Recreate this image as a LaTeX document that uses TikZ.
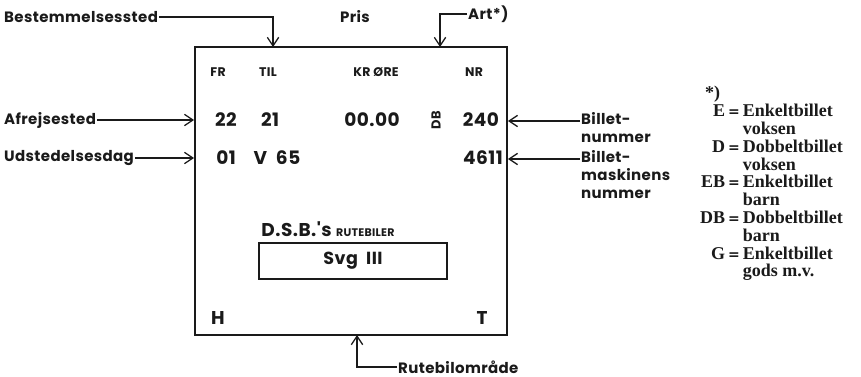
\documentclass[tikz,border=0pt]{standalone}
\usepackage{fontspec}
\setmainfont{Liberation Serif}
\newfontfamily\ticketfont{Poppins}[LetterSpace=2.5]
\newfontfamily\eqfont{DejaVu Sans}
\usepackage{array}
\usetikzlibrary{arrows.meta,positioning}
\definecolor{dsbink}{HTML}{1A1A1A}
\newcommand{\lik}{{\eqfont\bfseries\fontsize{14}{14}\selectfont =}}
\tikzset{
  ticketbox/.style={draw=dsbink,line width=1.8pt,minimum width=312pt,minimum height=288pt,inner sep=0pt},
  svgbox/.style={draw=dsbink,line width=1.4pt,minimum width=188pt,minimum height=36pt,
                 font=\ticketfont\bfseries\fontsize{17.5}{17.5}\selectfont,text=dsbink},
  callout/.style={font=\ticketfont\bfseries\fontsize{15}{18}\selectfont,text=dsbink,inner sep=1pt,align=left},
  fieldhead/.style={font=\ticketfont\bfseries\fontsize{12.5}{12.5}\selectfont,text=dsbink,inner sep=0pt},
  fieldval/.style={font=\ticketfont\bfseries\fontsize{18.5}{18.5}\selectfont,text=dsbink,inner sep=0pt},
  legendtext/.style={font=\bfseries\fontsize{18}{17.7}\selectfont,text=dsbink,inner sep=0pt},
  pointer/.style={-{Straight Barb[length=3mm,width=4mm]},line width=1.3pt,draw=dsbink}
}

\begin{document}
\begin{tikzpicture}[x=1pt,y=-1pt]
    \useasboundingbox (0,0) rectangle (861,377);

    % the ticket
    \node[ticketbox] (ticket) at (351,191) {};

    \node[fieldhead] (fr) at (218,72) {FR};
    \node[fieldhead] (til) at (268,72) {TIL};
    \node[fieldhead] (kr) at (376,72) {KR\ ØRE};
    \node[fieldhead] (nr) at (474,72) {NR};

    \node[fieldval] (fra) at (226,120) {22};
    \node[fieldval] (tilnr) at (270,120) {21};
    \node[fieldval] (pris) at (372,120) {00.00};
    \node[fieldval,rotate=90,font=\ticketfont\bfseries\fontsize{13}{13}\selectfont] (art) at (436,120) {DB};
    \node[fieldval] (nummer) at (481,120) {240};

    \node[fieldval] (dag) at (226,158) {01};
    \node[fieldval] (maaned) at (277,158) {V\ \ 65};
    \node[fieldval] (maskine) at (483,158) {4611};

    \node[fieldval] (dsb) at (328,229) {D.S.B.'s\ {\fontsize{11}{11}\selectfont RUTEBILER}};
    \node[svgbox] (svg) at (353,261) {Svg\ \ III};

    \node[fieldval] (hjem) at (218,318) {H};
    \node[fieldval] (tur) at (482,318) {T};

    % callouts
    \node[callout,anchor=west] (bestem) at (3,17) {Bestemmelsessted};
    \node[callout] (prislbl) at (355,17) {Pris};
    \node[callout,anchor=west] (artlbl) at (467,14) {Art*)};
    \node[callout,anchor=west] (afrejse) at (3,120) {Afrejsested};
    \node[callout,anchor=west] (udsted) at (3,158) {Udstedelsesdag};
    \node[callout,anchor=north west] (billetnr) at (580,111) {Billet-\\nummer};
    \node[callout,anchor=north west] (maskinnr) at (580,149) {Billet-\\maskinens\\nummer};
    \node[callout,anchor=west] (omraade) at (397,367) {Rutebilområde};

    \coordinate (tilpunkt) at (273,47);
    \coordinate (artpunkt) at (440,47);
    \coordinate (omrpunkt) at (357,335);

    \draw[pointer] (bestem.east) -| (tilpunkt);
    \draw[pointer] (artlbl.west) -| (artpunkt);
    \draw[pointer] (omraade.west) -| (omrpunkt);
    \draw[pointer] (afrejse.east) -- (afrejse.east -| ticket.west);
    \draw[pointer] (udsted.east) -- (udsted.east -| ticket.west);
    \draw[pointer] ([yshift=-10pt]billetnr.north west) coordinate (bn) -- (bn -| ticket.east);
    \draw[pointer] ([yshift=-10pt]maskinnr.north west) coordinate (mn) -- (mn -| ticket.east);

    % legend
    \node[legendtext,anchor=west] (stjerne) at (705,94) {*)};
    \node[legendtext,anchor=north east] (forklaring) at (843,104) {%
      \begin{tabular}{@{}r@{\,}c@{\,}l@{}}
        E & \lik & Enkeltbillet\\
          &   & voksen\\
        D & \lik & Dobbeltbillet\\
          &   & voksen\\
        EB & \lik & Enkeltbillet\\
          &   & barn\\
        DB & \lik & Dobbeltbillet\\
          &   & barn\\
        G & \lik & Enkeltbillet\\
          &   & gods m.v.
      \end{tabular}};
\end{tikzpicture}
\end{document}
